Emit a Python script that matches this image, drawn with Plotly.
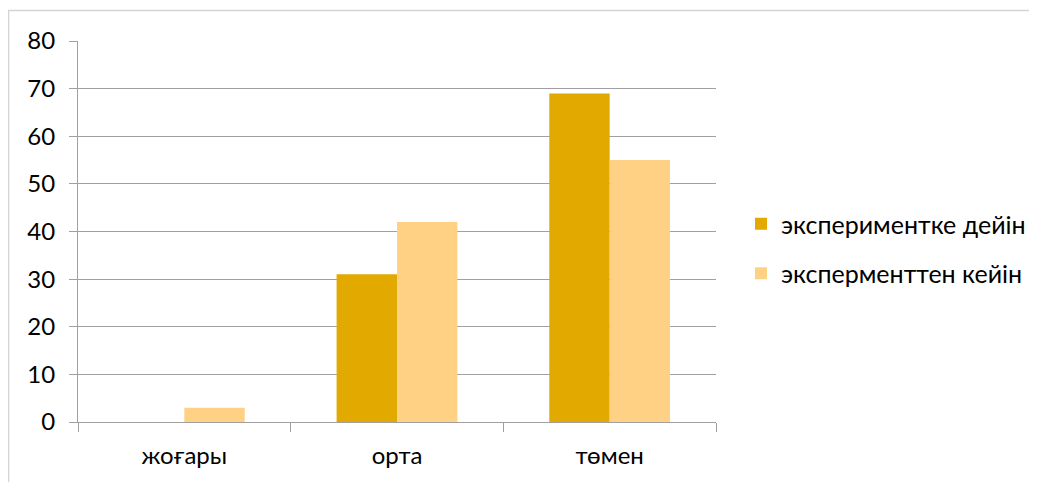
import plotly.graph_objects as go

categories = ["жоғары", "орта", "төмен"]
series_names = ["экспериментке дейін", "эксперменттен кейін"]
before_values = [0, 31, 69]
after_values = [3, 42, 55]
y_ticks = [0, 10, 20, 30, 40, 50, 60, 70, 80]

OFF = 8  # page body margin
W, H = 1037 - OFF, 482 - OFF
L, R, T, B = 70, 321, 33, 60
pw = W - L - R
ph = H - T - B

def fx(p):  # page pixel -> paper x
    return (p - OFF - L) / pw

def fy(p):  # page pixel -> paper y
    return (H - B - (p - OFF)) / ph

def cx(p):  # page pixel -> container x
    return (p - OFF) / W

def cy(p):  # page pixel -> container y
    return 1 - (p - OFF) / H

FONT = "Lato"
fig = go.Figure()
fig.add_trace(go.Bar(x=categories, y=before_values, name=series_names[0],
                     marker=dict(color="#E2A900", line=dict(width=0)),
                     legendgroup="a"))
fig.add_trace(go.Bar(x=categories, y=after_values, name=series_names[1],
                     marker=dict(color="#FED185", line=dict(width=0)),
                     legendgroup="b"))

fig.add_shape(type="rect", xref="paper", yref="paper",
              x0=fx(8.5), x1=fx(1060), y0=fy(500), y1=fy(10.5),
              line=dict(color="#D4D4D4", width=1.5), fillcolor="rgba(0,0,0,0)",
              layer="below")

fig.update_layout(
    width=W, height=H,
    margin=dict(l=L, r=R, t=T, b=B),
    paper_bgcolor="white", plot_bgcolor="white",
    barmode="group", bargap=0.432, bargroupgap=0,
    font=dict(family=FONT, size=24, color="#000000"),
    legend=dict(xref="container", yref="container",
                x=cx(741), y=cy(201), xanchor="left", yanchor="top",
                font=dict(family=FONT, size=25, color="#000000"),
                tracegroupgap=14, bgcolor="rgba(0,0,0,0)"),
    showlegend=True,
)
fig.update_xaxes(
    type="category", showline=True, linecolor="#A0A0A0", linewidth=1,
    ticks="outside", tickson="boundaries", ticklen=9, tickcolor="#A0A0A0",
    showgrid=False, ticklabelstandoff=12, automargin=False,
    tickfont=dict(family=FONT, size=24, color="#000000"),
)
fig.update_yaxes(
    range=[0, 80], tickvals=y_ticks, showline=True, linecolor="#A0A0A0", linewidth=1,
    ticks="outside", ticklen=8, tickcolor="#A0A0A0",
    showgrid=True, gridcolor="#A0A0A0", gridwidth=1, zeroline=False,
    ticklabelstandoff=9, automargin=False,
    tickfont=dict(family=FONT, size=24, color="#000000"),
)

fig.write_html("out.html")
